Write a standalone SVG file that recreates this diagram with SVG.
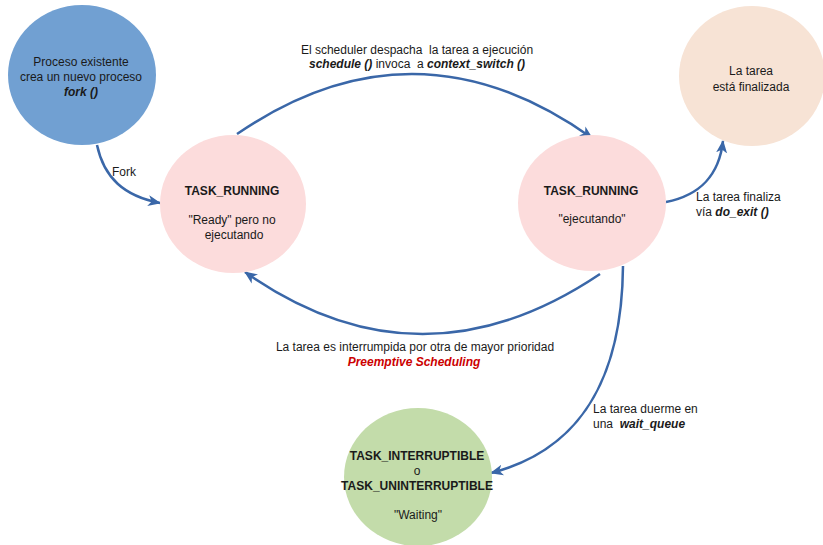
<svg xmlns="http://www.w3.org/2000/svg" width="823" height="545" viewBox="0 0 823 545">
  <style>
    text { font-family: "Liberation Sans", Arial, sans-serif; font-size: 12px; fill: #1a1a1a; }
    .c { text-anchor: middle; }
    .b { font-weight: bold; }
    .bi { font-weight: bold; font-style: italic; }
    .red { fill: #cc0000; }
    .edge { fill: none; stroke: #3a67a8; stroke-width: 2.5; marker-end: url(#arrow); }
  </style>
  <defs>
    <marker id="arrow" viewBox="0 -6 14 12" refX="12" refY="0" markerWidth="14" markerHeight="12" markerUnits="userSpaceOnUse" orient="auto">
      <path d="M0,-5.5 L13,0 L0,5.5 L3.5,0 z" fill="#3a67a8"/>
    </marker>
  </defs>

  <rect width="823" height="545" fill="#ffffff"/>

  <!-- state transitions -->
  <g id="connectors">
    <path class="edge" d="M97,145 C104,178 124,196 160,203"/>
    <path class="edge" d="M237,134 Q415,12 592,138"/>
    <path class="edge" d="M600,274 Q420,395 245,272"/>
    <path class="edge" d="M666,202 C700,195 719,176 723,141"/>
    <path class="edge" d="M623,266 C622,380 580,450 491,473"/>
  </g>

  <g id="lbl-fork">
    <text x="112" y="176">Fork</text>
  </g>
  <g id="lbl-schedule">
    <text class="c" x="417" y="54" xml:space="preserve">El scheduler despacha  la tarea a ejecución</text>
    <text class="c" x="417" y="68" xml:space="preserve"><tspan class="bi">schedule ()</tspan> invoca  a <tspan class="bi">context_switch ()</tspan></text>
  </g>
  <g id="lbl-preempt">
    <text class="c" x="415" y="351">La tarea es interrumpida por otra de mayor prioridad</text>
    <text class="c bi red" x="414" y="366">Preemptive Scheduling</text>
  </g>
  <g id="lbl-exit">
    <text x="696" y="201">La tarea finaliza</text>
    <text x="696" y="216">vía <tspan class="bi">do_exit ()</tspan></text>
  </g>
  <g id="lbl-wait">
    <text x="593" y="413">La tarea duerme en</text>
    <text x="593" y="428" xml:space="preserve">una  <tspan class="bi">wait_queue</tspan></text>
  </g>

  <!-- states -->
  <g id="node-fork">
    <ellipse cx="82" cy="75" rx="74" ry="70" fill="#71a0d2"/>
    <text class="c" x="81" y="66">Proceso existente</text>
    <text class="c" x="81" y="81">crea un nuevo proceso</text>
    <text class="c bi" x="81" y="96">fork ()</text>
  </g>
  <g id="node-ready">
    <ellipse cx="233" cy="204" rx="73" ry="69" fill="#fcdcdc"/>
    <text class="c b" x="232" y="195">TASK_RUNNING</text>
    <text class="c" x="232" y="224">"Ready" pero no</text>
    <text class="c" x="234" y="239">ejecutando</text>
  </g>
  <g id="node-running">
    <ellipse cx="592" cy="203" rx="74" ry="68" fill="#fcdcdc"/>
    <text class="c b" x="591" y="195">TASK_RUNNING</text>
    <text class="c" x="592" y="223">"ejecutando"</text>
  </g>
  <g id="node-done">
    <ellipse cx="752" cy="76" rx="73" ry="70" fill="#f7e3d5"/>
    <text class="c" x="751" y="75">La tarea</text>
    <text class="c" x="751" y="91">está finalizada</text>
  </g>
  <g id="node-waiting">
    <ellipse cx="418" cy="477" rx="74" ry="69" fill="#c3dcaa"/>
    <text class="c b" x="417" y="460">TASK_INTERRUPTIBLE</text>
    <text class="c" x="417" y="475">o</text>
    <text class="c b" x="417" y="490">TASK_UNINTERRUPTIBLE</text>
    <text class="c" x="418" y="519">"Waiting"</text>
  </g>
</svg>
